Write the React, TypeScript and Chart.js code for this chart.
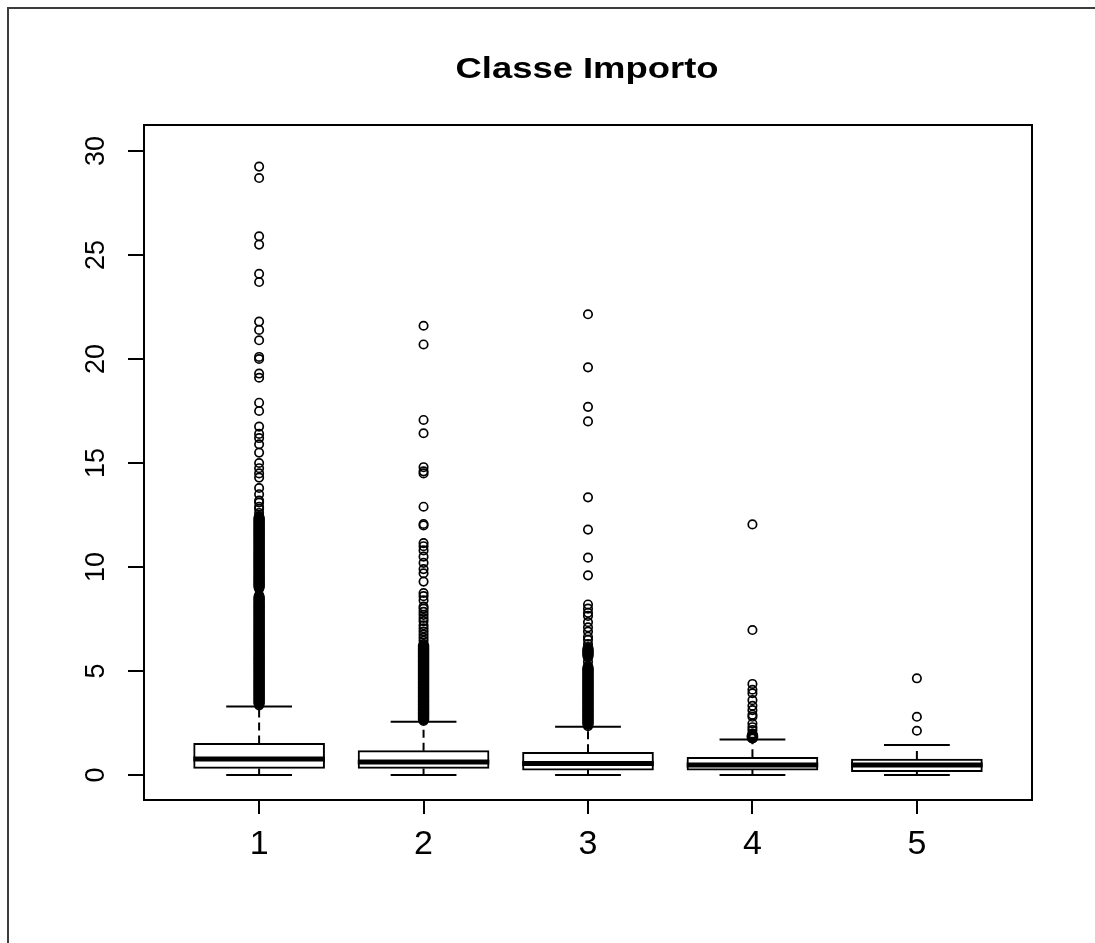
import { useEffect, useRef } from 'react';
import { Chart, registerables } from 'chart.js';

Chart.register(...registerables);

// ---- data ----
const titleText = 'Classe Importo';
const categories = ['1', '2', '3', '4', '5'];
const yTickValues = [0, 5, 10, 15, 20, 25, 30];

const lowerWhisker = [0, 0, 0, 0, 0];
const lowerQuartile = [0.32, 0.32, 0.24, 0.24, 0.16];
const medians = [0.77, 0.63, 0.56, 0.48, 0.48];
const upperQuartile = [1.52, 1.17, 1.09, 0.85, 0.77];
const upperWhisker = [3.29, 2.56, 2.32, 1.71, 1.44];

const outliers1 = [
  3.35, 3.45, 3.55, 3.65, 3.75, 3.85, 3.95, 4.05, 4.15, 4.25, 4.35, 4.45, 4.55, 4.65, 4.75,
  4.85, 4.95, 5.05, 5.15, 5.25, 5.35, 5.45, 5.55, 5.65, 5.75, 5.85, 5.95, 6.05, 6.15, 6.25,
  6.35, 6.45, 6.55, 6.65, 6.75, 6.85, 6.95, 7.05, 7.15, 7.25, 7.35, 7.45, 7.55, 7.65, 7.75,
  7.85, 7.95, 8.05, 8.15, 8.25, 8.35, 8.45, 8.55, 8.65, 8.95, 9.05, 9.15, 9.25, 9.35, 9.45,
  9.55, 9.65, 9.75, 9.85, 9.95, 10.05, 10.15, 10.25, 10.35, 10.45, 10.55, 10.65, 10.75,
  10.85, 10.95, 11.05, 11.15, 11.25, 11.35, 11.45, 11.55, 11.65, 11.75, 11.85, 11.95,
  12.05, 12.15, 12.25, 12.35, 12.45, 12.6, 12.8, 12.9, 13.1, 13.2, 13.5, 13.8, 14.3, 14.5,
  14.75, 15.0, 15.5, 15.9, 16.2, 16.4, 16.75, 17.5, 17.9, 19.1, 19.3, 20.0, 20.1, 20.9,
  21.4, 21.8, 23.7, 24.1, 25.5, 25.9, 28.7, 29.25,
];
const outliers2 = [
  2.6, 2.7, 2.8, 2.9, 3.0, 3.1, 3.2, 3.3, 3.4, 3.5, 3.6, 3.7, 3.8, 3.9, 4.0, 4.1, 4.2, 4.3,
  4.4, 4.5, 4.6, 4.7, 4.8, 4.9, 5.0, 5.1, 5.2, 5.3, 5.4, 5.5, 5.6, 5.7, 5.8, 5.9, 6.0, 6.1,
  6.2, 6.3, 6.45, 6.6, 6.75, 6.9, 7.05, 7.2, 7.4, 7.55, 7.7, 7.85, 8.0, 8.1, 8.4, 8.6, 8.75,
  9.3, 9.7, 9.9, 10.2, 10.5, 10.8, 11.0, 11.15, 12.0, 12.07, 12.9, 14.5, 14.6, 14.8, 16.43,
  17.07, 20.7, 21.6,
];
const outliers3 = [
  2.35, 2.45, 2.55, 2.65, 2.75, 2.85, 2.95, 3.05, 3.15, 3.25, 3.35, 3.45, 3.55, 3.65, 3.75,
  3.85, 3.95, 4.05, 4.15, 4.25, 4.35, 4.45, 4.55, 4.65, 4.75, 4.85, 4.95, 5.05, 5.15, 5.25,
  5.45, 5.65, 5.75, 5.85, 5.95, 6.05, 6.15, 6.3, 6.5, 6.65, 6.9, 7.1, 7.35, 7.65, 7.8, 8.0,
  8.2, 9.6, 10.45, 11.8, 13.35, 17.0, 17.7, 19.6, 22.15,
];
const outliers4 = [
  1.76, 1.8, 1.85, 1.9, 2.0, 2.16, 2.3, 2.48, 2.8, 2.9, 3.12, 3.33, 3.6, 3.93, 4.1, 4.38,
  6.97, 12.05,
];
const outliers5 = [2.13, 2.8, 4.65];
const outlierGroups = [outliers1, outliers2, outliers3, outliers4, outliers5];

// box half-width and whisker cap half-width, in x-axis units
const BOX_HALF = 0.4;
const CAP_HALF = 0.2;

type Pt = { x: number; y: number | null };

// joins [start, end] segments into one series, separated by null gaps
function joinSegments(segs: [Pt, Pt][]): Pt[] {
  const out: Pt[] = [];
  segs.forEach(([a, b]) => {
    out.push(a, b, { x: (a.x + b.x) / 2, y: null });
  });
  return out;
}

// a point sits inside a packed run when it has close neighbours on both sides
function packedFlags(values: number[]): boolean[] {
  return values.map((v, i) => {
    const prev = i > 0 ? v - values[i - 1] : Infinity;
    const next = i < values.length - 1 ? values[i + 1] - v : Infinity;
    return prev <= 0.105 && next <= 0.105;
  });
}

const frameAndTitle = {
  id: 'frameAndTitle',
  afterDraw(chart: Chart) {
    const { ctx, chartArea } = chart;
    ctx.save();
    // outer frame
    ctx.strokeStyle = '#3c3c3c';
    ctx.lineWidth = 2;
    ctx.beginPath();
    ctx.moveTo(8, chart.height);
    ctx.lineTo(8, 8);
    ctx.lineTo(chart.width, 8);
    ctx.stroke();
    // plot box
    ctx.strokeStyle = '#000';
    ctx.lineWidth = 2;
    ctx.strokeRect(chartArea.left, chartArea.top, chartArea.right - chartArea.left, chartArea.bottom - chartArea.top);
    // title
    ctx.font = 'bold 29px "Liberation Sans", Arial, sans-serif';
    ctx.fillStyle = '#000';
    ctx.textAlign = 'center';
    ctx.textBaseline = 'alphabetic';
    const w = ctx.measureText(titleText).width;
    const sx = 263 / w;
    ctx.translate(587, 78);
    ctx.scale(sx, 1);
    ctx.fillText(titleText, 0, 0);
    ctx.restore();
  },
};

export default function App() {
  const ref = useRef<HTMLCanvasElement | null>(null);

  useEffect(() => {
    const canvas = ref.current;
    if (!canvas) return;

    const xs = categories.map((_, i) => i + 1);

    const boxData = xs.map((x, i) => ({ x, y: [lowerQuartile[i], upperQuartile[i]] }));
    const medianData = joinSegments(
      xs.map((x, i) => [{ x: x - BOX_HALF, y: medians[i] }, { x: x + BOX_HALF, y: medians[i] }] as [Pt, Pt])
    );
    const whiskerData = joinSegments(
      xs.flatMap((x, i) => [
        [{ x, y: upperQuartile[i] }, { x, y: upperWhisker[i] }] as [Pt, Pt],
        [{ x, y: lowerQuartile[i] }, { x, y: lowerWhisker[i] }] as [Pt, Pt],
      ])
    );
    const capData = joinSegments(
      xs.flatMap((x, i) => [
        [{ x: x - CAP_HALF, y: upperWhisker[i] }, { x: x + CAP_HALF, y: upperWhisker[i] }] as [Pt, Pt],
        [{ x: x - CAP_HALF, y: lowerWhisker[i] }, { x: x + CAP_HALF, y: lowerWhisker[i] }] as [Pt, Pt],
      ])
    );
    const outlierData = outlierGroups.flatMap((g, i) => g.map((v) => ({ x: xs[i], y: v })));
    const packed = outlierGroups.flatMap((g) => packedFlags(g));

    const font = '"Liberation Sans", Arial, Helvetica, sans-serif';

    const chart = new Chart(canvas, {
      type: 'bar',
      data: {
        datasets: [
          {
            type: 'bar',
            data: boxData as any,
            backgroundColor: '#ffffff',
            borderColor: '#000000',
            borderWidth: 2,
            borderSkipped: false,
            barThickness: 131,
            order: 3,
          },
          {
            type: 'line',
            data: whiskerData as any,
            borderColor: '#000000',
            borderWidth: 2,
            borderDash: [8, 5],
            pointRadius: 0,
            spanGaps: false,
            fill: false,
            order: 5,
          },
          {
            type: 'line',
            data: capData as any,
            borderColor: '#000000',
            borderWidth: 2,
            pointRadius: 0,
            spanGaps: false,
            fill: false,
            order: 4,
          },
          {
            type: 'line',
            data: medianData as any,
            borderColor: '#000000',
            borderWidth: 5,
            pointRadius: 0,
            spanGaps: false,
            fill: false,
            order: 2,
          },
          {
            type: 'scatter',
            data: outlierData as any,
            pointStyle: 'circle',
            pointRadius: 4.2,
            pointBorderWidth: (c: any) => (packed[c.dataIndex] ? 3.2 : 1.7),
            pointBorderColor: '#000000',
            pointBackgroundColor: 'rgba(0,0,0,0)',
            order: 1,
          },
        ],
      },
      options: {
        responsive: false,
        animation: false,
        events: [],
        devicePixelRatio: 1,
        layout: { padding: { top: 125, right: 63, left: 0, bottom: 0 } },
        plugins: {
          legend: { display: false },
          title: { display: false },
          tooltip: { enabled: false },
        },
        scales: {
          x: {
            type: 'linear',
            offset: false,
            min: 0.3,
            max: 5.7,
            afterBuildTicks: (s: any) => {
              s.ticks = xs.map((v) => ({ value: v }));
            },
            afterFit: (s: any) => {
              s.height = 143;
            },
            grid: { offset: false, drawOnChartArea: false, drawTicks: true, tickLength: 14, color: '#000', lineWidth: 2 },
            border: { display: false },
            ticks: {
              autoSkip: false,
              minRotation: 0,
              maxRotation: 0,
              padding: 10,
              color: '#000',
              font: { family: font, size: 34 },
              callback: (_v: any, i: number) => categories[i],
            },
          },
          y: {
            type: 'linear',
            min: -1.2,
            max: 31.25,
            afterBuildTicks: (s: any) => {
              s.ticks = yTickValues.map((v) => ({ value: v }));
            },
            afterFit: (s: any) => {
              s.width = 144;
            },
            grid: { drawOnChartArea: false, drawTicks: true, tickLength: 16, color: '#000', lineWidth: 2 },
            border: { display: false },
            ticks: {
              minRotation: 90,
              maxRotation: 90,
              crossAlign: 'center',
              padding: 16,
              color: '#000',
              font: { family: font, size: 27 },
            },
          },
        },
      },
      plugins: [frameAndTitle],
    });

    return () => chart.destroy();
  }, []);

  return (
    <div style={{ position: 'fixed', left: 0, top: 0, width: 1095, height: 943, background: '#fff' }}>
      <canvas ref={ref} width={1095} height={943} style={{ width: 1095, height: 943, display: 'block' }} />
    </div>
  );
}
